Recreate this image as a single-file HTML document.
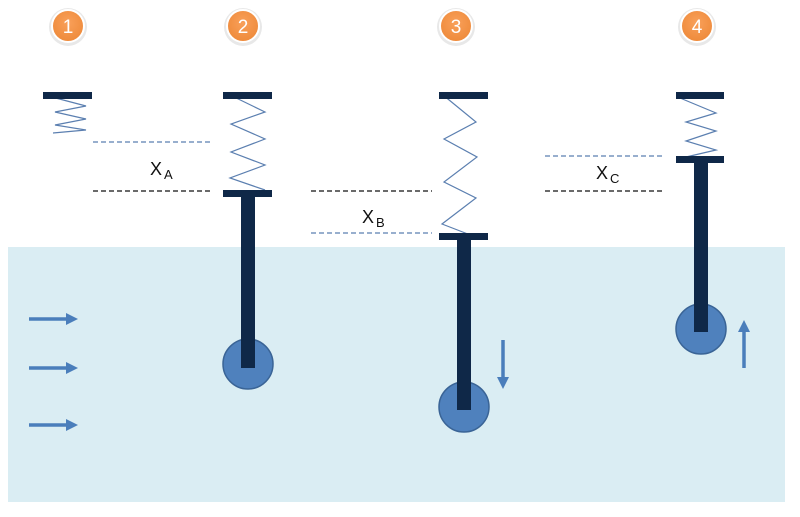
<!DOCTYPE html>
<html><head><meta charset="utf-8"><style>
html,body{margin:0;padding:0;background:#fff;width:800px;height:517px;overflow:hidden}
svg{display:block}
text{font-family:"Liberation Sans",sans-serif}
</style></head><body>
<svg width="800" height="517" viewBox="0 0 800 517" xmlns="http://www.w3.org/2000/svg">
<defs>
<radialGradient id="og" cx="50%" cy="40%" r="60%"><stop offset="0" stop-color="#f9a05a"/><stop offset="1" stop-color="#ee8a3a"/></radialGradient>
</defs>
<rect x="8" y="247" width="777" height="255" fill="#daedf3"/>
<!-- number badges -->
<g font-size="19" fill="#fff" text-anchor="middle">
<circle cx="68" cy="27" r="19" fill="#e8e8e8"/><circle cx="68" cy="26" r="16" fill="url(#og)" stroke="#fff" stroke-width="2"/><text x="68" y="33">1</text>
<circle cx="243" cy="27" r="19" fill="#e8e8e8"/><circle cx="243" cy="26" r="16" fill="url(#og)" stroke="#fff" stroke-width="2"/><text x="243" y="33">2</text>
<circle cx="456" cy="27" r="19" fill="#e8e8e8"/><circle cx="456" cy="26" r="16" fill="url(#og)" stroke="#fff" stroke-width="2"/><text x="456" y="33">3</text>
<circle cx="697" cy="27" r="19" fill="#e8e8e8"/><circle cx="697" cy="26" r="16" fill="url(#og)" stroke="#fff" stroke-width="2"/><text x="697" y="33">4</text>
</g>
<!-- springs -->
<g fill="none" stroke="#5b7fb0" stroke-width="1.2">
<polyline points="48,96 86,106 55,112 86,119 55,125 86,130 53,133"/>
<polyline points="230,95 265,112 231,124 265,139 231,152 265,165 230,178 265,190"/>
<polyline points="443,95 476,122 444,139 477,157 444,182 476,198 442,224 473,236"/>
<polyline points="680,98 716,113 686,122 716,131 686,141 716,150 686,157"/>
</g>
<!-- dashed lines -->
<g stroke-width="1.2" stroke-dasharray="5,3">
<line x1="93" y1="142" x2="213" y2="142" stroke="#5b7fb0"/>
<line x1="93" y1="191" x2="213" y2="191" stroke="#111"/>
<line x1="311" y1="191" x2="432" y2="191" stroke="#111"/>
<line x1="311" y1="233" x2="432" y2="233" stroke="#5b7fb0"/>
<line x1="545" y1="156" x2="665" y2="156" stroke="#5b7fb0"/>
<line x1="545" y1="191" x2="665" y2="191" stroke="#111"/>
</g>
<g font-size="18" fill="#111">
<text x="150" y="175">X<tspan font-size="13" dy="4" dx="2">A</tspan></text>
<text x="362" y="223">X<tspan font-size="13" dy="4" dx="2">B</tspan></text>
<text x="596" y="179">X<tspan font-size="13" dy="4" dx="2">C</tspan></text>
</g>
<!-- balls -->
<g fill="#4f81bd" stroke="#3a6496" stroke-width="1.5">
<ellipse cx="248" cy="364" rx="25" ry="25"/>
<ellipse cx="464" cy="407" rx="25" ry="25"/>
<ellipse cx="701" cy="329" rx="25" ry="25"/>
</g>
<!-- bars and rods -->
<g fill="#0f2848">
<rect x="43" y="92" width="49" height="7"/>
<rect x="223" y="92" width="49" height="7"/>
<rect x="223" y="190" width="49" height="7"/>
<rect x="241" y="196" width="14" height="172"/>
<rect x="439" y="92" width="49" height="7"/>
<rect x="439" y="233" width="49" height="7"/>
<rect x="457" y="239" width="14" height="171"/>
<rect x="676" y="92" width="48" height="7"/>
<rect x="676" y="156" width="48" height="7"/>
<rect x="694" y="162" width="14" height="170"/>
</g>
<!-- arrows -->
<g stroke="#4a7ebb" stroke-width="3.5" fill="#4a7ebb">
<line x1="29" y1="319" x2="68" y2="319"/><polygon stroke="none" points="66,313 78,319 66,325"/>
<line x1="29" y1="368" x2="68" y2="368"/><polygon stroke="none" points="66,362 78,368 66,374"/>
<line x1="29" y1="425" x2="68" y2="425"/><polygon stroke="none" points="66,419 78,425 66,431"/>
<line x1="503" y1="340" x2="503" y2="379"/><polygon stroke="none" points="497,377 509,377 503,389"/>
<line x1="744" y1="368" x2="744" y2="330"/><polygon stroke="none" points="738,332 750,332 744,320"/>
</g>
</svg>
</body></html>
